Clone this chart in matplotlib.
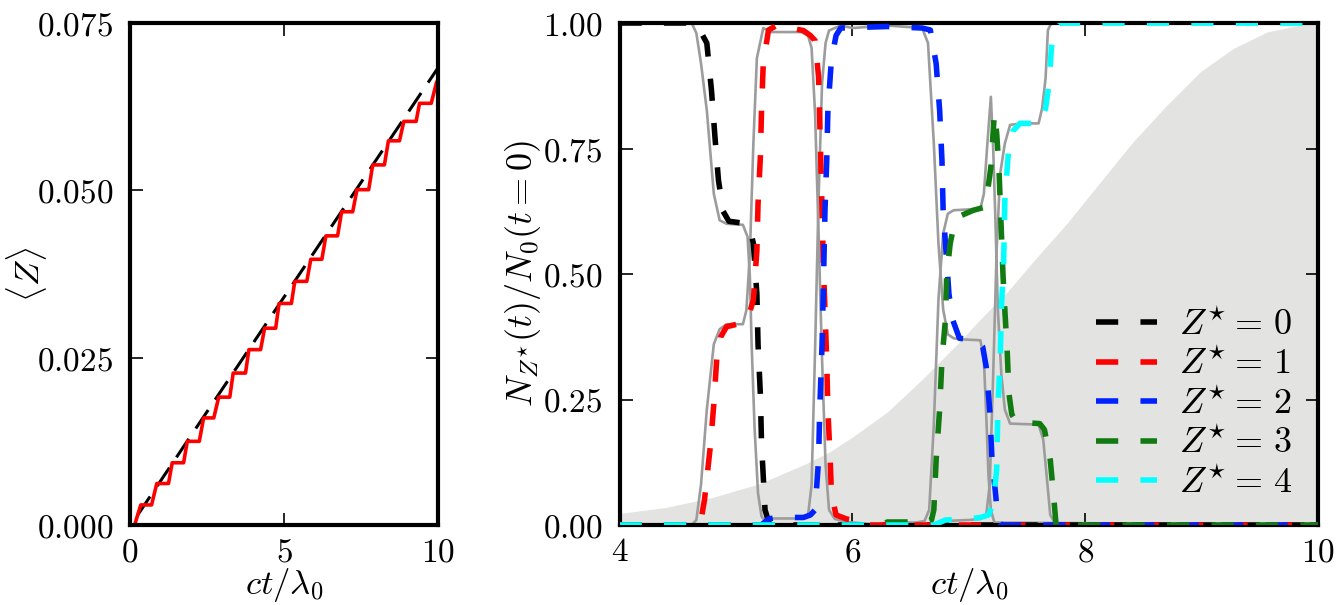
import matplotlib
matplotlib.use("Agg")
import matplotlib.pyplot as plt

plt.rcParams['mathtext.fontset'] = 'cm'
plt.rcParams['font.family'] = 'serif'
plt.rcParams['font.size'] = 24
plt.rcParams['lines.scale_dashes'] = False

# ---- panel a: mean charge ----
fit_x = [0.25, 10.0]
fit_y = [0.0015, 0.0683]

step_x = [0.15, 0.35, 0.70, 0.87, 1.25, 1.37, 1.74, 1.86, 2.25, 2.39, 2.72, 2.88,
          3.24, 3.35, 3.75, 3.86, 4.24, 4.37, 4.73, 4.84, 5.24, 5.35, 5.74, 5.87,
          6.23, 6.36, 6.74, 6.87, 7.23, 7.37, 7.75, 7.88, 8.26, 8.39, 8.75, 8.89,
          9.29, 9.40, 9.78, 9.95, 10.0]
step_y = [0.0, 0.0030, 0.0030, 0.0062, 0.0062, 0.0093, 0.0093, 0.0125, 0.0125,
          0.0160, 0.0160, 0.0191, 0.0191, 0.0227, 0.0227, 0.0262, 0.0262, 0.0294,
          0.0294, 0.0331, 0.0331, 0.0364, 0.0364, 0.0397, 0.0397, 0.0432, 0.0432,
          0.0468, 0.0468, 0.0501, 0.0501, 0.0538, 0.0538, 0.0574, 0.0574, 0.0603,
          0.0603, 0.0630, 0.0630, 0.0661, 0.0665]

left_xticks = [0, 5, 10]
left_yticks = [0.0, 0.025, 0.05, 0.075]
left_yticklabels = ['0.000', '0.025', '0.050', '0.075']

# ---- panel b: charge state populations ----
env_x = [4.0, 4.4, 4.8, 5.2, 5.6, 5.8, 6.0, 6.3, 6.6, 6.9, 7.1, 7.33, 7.55, 7.84, 8.13,
         8.41, 8.70, 8.99, 9.27, 9.56, 9.85, 10.0]
env_y = [0.023, 0.035, 0.055, 0.082, 0.122, 0.145, 0.175, 0.225, 0.29, 0.36, 0.41, 0.464,
         0.524, 0.60, 0.683, 0.763, 0.836, 0.903, 0.949, 0.982, 0.996, 1.0]

z0_x = [4.0, 4.6, 4.68, 4.75, 4.79, 4.82, 4.85, 4.89, 4.94, 5.04, 5.12, 5.15, 5.18,
        5.19, 5.21, 5.22, 5.25, 5.29, 10.0]
z0_y = [1.0, 1.0, 0.99, 0.96, 0.866, 0.773, 0.687, 0.625, 0.605, 0.602, 0.59, 0.561,
        0.46, 0.36, 0.26, 0.163, 0.03, 0.0, 0.0]

z1_x = [4.0, 4.64, 4.70, 4.73, 4.78, 4.81, 4.835, 4.87, 4.92, 5.01, 5.10, 5.15, 5.18,
        5.19, 5.21, 5.22, 5.235, 5.28, 5.35, 5.58, 5.64, 5.68, 5.71, 5.72, 5.74, 5.75,
        5.765, 5.78, 5.79, 5.81, 5.82, 5.86, 5.95, 6.05, 6.1, 10.0]
z1_y = [0.0, 0.0, 0.01, 0.05, 0.156, 0.24, 0.33, 0.375, 0.395, 0.40, 0.41, 0.448, 0.547,
        0.64, 0.733, 0.826, 0.92, 0.986, 0.995, 0.985, 0.975, 0.965, 0.893, 0.806, 0.627,
        0.527, 0.428, 0.328, 0.229, 0.129, 0.063, 0.02, 0.012, 0.008, 0.0, 0.0]

z2_x = [4.0, 5.22, 5.28, 5.35, 5.58, 5.64, 5.68, 5.71, 5.72, 5.74, 5.75, 5.765, 5.78,
        5.79, 5.82, 5.86, 5.90, 6.3, 6.6, 6.67, 6.72, 6.75, 6.77, 6.78, 6.81, 6.83,
        6.86, 6.92, 7.07, 7.12, 7.15, 7.18, 7.20, 7.23, 7.25, 7.28, 10.0]
z2_y = [0.0, 0.0, 0.012, 0.015, 0.015, 0.02, 0.03, 0.13, 0.23, 0.36, 0.46, 0.627, 0.726,
        0.826, 0.926, 0.975, 0.99, 0.993, 0.99, 0.986, 0.919, 0.826, 0.726, 0.627, 0.527,
        0.46, 0.41, 0.372, 0.368, 0.355, 0.315, 0.229, 0.13, 0.063, 0.013, 0.0, 0.0]

z3_x = [4.0, 6.25, 6.3, 6.55, 6.62, 6.68, 6.70, 6.72, 6.75, 6.77, 6.80, 6.81, 6.84,
        6.87, 6.92, 7.04, 7.12, 7.15, 7.19, 7.22, 7.24, 7.26, 7.275, 7.295, 7.31, 7.33,
        7.345, 7.37, 7.41, 7.61, 7.65, 7.70, 7.73, 7.75, 10.0]
z3_y = [0.0, 0.0, 0.006, 0.006, 0.005, 0.01, 0.03, 0.13, 0.23, 0.33, 0.41, 0.494, 0.56,
        0.594, 0.615, 0.627, 0.632, 0.645, 0.713, 0.82, 0.78, 0.707, 0.614, 0.494, 0.428,
        0.348, 0.262, 0.22, 0.205, 0.202, 0.19, 0.13, 0.056, 0.0, 0.0]

z4_x = [4.0, 6.7, 6.8, 7.0, 7.1, 7.17, 7.21, 7.24, 7.25, 7.27, 7.28, 7.30, 7.31, 7.34,
        7.38, 7.44, 7.61, 7.66, 7.69, 7.71, 7.73, 7.78, 10.0]
z4_y = [0.0, 0.0, 0.01, 0.012, 0.015, 0.02, 0.043, 0.11, 0.23, 0.33, 0.43, 0.527, 0.647,
        0.74, 0.785, 0.80, 0.80, 0.83, 0.88, 0.95, 0.985, 1.0, 1.0]

# model curves (thin grey)
g0_x = [4.0, 4.62, 4.66, 4.70, 4.75, 4.81, 4.86, 4.92, 5.06, 5.10, 5.12, 5.135, 5.16,
        5.19, 5.22, 5.26, 5.3, 10.0]
g0_y = [1.0, 1.0, 0.98, 0.92, 0.826, 0.66, 0.607, 0.60, 0.598, 0.574, 0.494, 0.36, 0.195,
        0.063, 0.017, 0.005, 0.0, 0.0]

g1_x = [4.0, 4.62, 4.66, 4.70, 4.75, 4.81, 4.86, 4.92, 5.06, 5.09, 5.12, 5.15, 5.18,
        5.235, 5.3, 5.56, 5.62, 5.65, 5.68, 5.71, 5.74, 5.77, 5.80, 5.85, 5.95, 6.1,
        6.2, 10.0]
g1_y = [0.0, 0.0, 0.01, 0.08, 0.23, 0.36, 0.39, 0.40, 0.40, 0.428, 0.54, 0.76, 0.93,
        0.99, 0.982, 0.982, 0.975, 0.95, 0.82, 0.58, 0.33, 0.12, 0.03, 0.012, 0.006,
        0.003, 0.0, 0.0]

g2_x = [4.0, 5.2, 5.25, 5.3, 5.58, 5.62, 5.65, 5.68, 5.71, 5.74, 5.77, 5.80, 5.85,
        5.9, 6.0, 6.3, 6.6, 6.65, 6.70, 6.74, 6.78, 6.82, 6.87, 6.92, 7.10, 7.13, 7.15,
        7.17, 7.19, 7.22, 10.0]
g2_y = [0.0, 0.0, 0.01, 0.013, 0.013, 0.02, 0.08, 0.35, 0.65, 0.88, 0.96, 0.985, 0.99,
        0.995, 0.99, 0.995, 0.99, 0.96, 0.76, 0.56, 0.43, 0.38, 0.372, 0.37, 0.368, 0.33,
        0.22, 0.096, 0.03, 0.005, 0.0]

g3_x = [4.0, 6.25, 6.3, 6.55, 6.62, 6.66, 6.70, 6.74, 6.78, 6.82, 6.87, 7.10, 7.13,
        7.16, 7.19, 7.21, 7.23, 7.25, 7.28, 7.31, 7.355, 7.60, 7.64, 7.67, 7.70, 7.75, 10.0]
g3_y = [0.0, 0.0, 0.005, 0.005, 0.008, 0.03, 0.2, 0.45, 0.58, 0.62, 0.627, 0.63, 0.66,
        0.76, 0.853, 0.75, 0.60, 0.43, 0.30, 0.23, 0.202, 0.20, 0.17, 0.096, 0.02, 0.0, 0.0]

g4_x = [4.0, 6.7, 6.8, 7.0, 7.1, 7.15, 7.18, 7.21, 7.24, 7.27, 7.31, 7.355, 7.45, 7.60,
        7.63, 7.66, 7.68, 7.71, 7.75, 10.0]
g4_y = [0.0, 0.0, 0.008, 0.01, 0.012, 0.02, 0.08, 0.3, 0.55, 0.7, 0.76, 0.797, 0.80,
        0.80, 0.83, 0.89, 0.986, 1.0, 1.0, 1.0]

state_labels = [r'$Z^{\star} =\, 0$', r'$Z^{\star} =\, 1$', r'$Z^{\star} =\, 2$',
                r'$Z^{\star} =\, 3$', r'$Z^{\star} =\, 4$']
state_colors = ['black', 'red', '#0022ff', '#117a11', 'cyan']

right_xticks = [4, 6, 8, 10]
right_yticks = [0.0, 0.25, 0.5, 0.75, 1.0]
right_yticklabels = ['0.00', '0.25', '0.50', '0.75', '1.00']

W, H = 1337, 605
fig = plt.figure(figsize=(W / 100, H / 100), dpi=100)
ax1 = fig.add_axes([130 / W, (H - 525) / H, 308 / W, 502 / H])
ax2 = fig.add_axes([619.5 / W, (H - 525) / H, 698.5 / W, 502 / H])


def style_axes(ax):
    for s in ax.spines.values():
        s.set_linewidth(3)
    ax.tick_params(direction='in', top=True, right=True, length=9, width=1.2,
                   labelsize=24, pad=12)
    ax.tick_params(axis='x', pad=8)


# left panel
ax1.plot(fit_x, fit_y, color='black', lw=2.2, dashes=(16, 9))
ax1.plot(step_x, step_y, color='red', lw=2.6)
ax1.set_xlim(0, 10)
ax1.set_ylim(0, 0.075)
ax1.set_xticks(left_xticks)
ax1.set_xticklabels(['$%d$' % t for t in left_xticks])
ax1.set_yticks(left_yticks)
ax1.set_yticklabels(['$%s$' % t for t in left_yticklabels])
ax1.set_xlabel(r'$ct/\lambda_0$', fontsize=25)
ax1.set_ylabel(r'$\langle Z\rangle$', fontsize=25)
ax1.xaxis.set_label_coords(0.5, -0.082)
ax1.yaxis.set_label_coords(-0.262, 0.5)
style_axes(ax1)

# right panel
ax2.fill_between(env_x, 0, env_y, color='#e3e4e2', lw=0, zorder=0)
grey_x = [g0_x, g1_x, g2_x, g3_x, g4_x]
grey_y = [g0_y, g1_y, g2_y, g3_y, g4_y]
for gx, gy in zip(grey_x, grey_y):
    ax2.plot(gx, gy, color='#9c9c9c', lw=1.9, zorder=2)

dash_x = [z0_x, z1_x, z2_x, z3_x, z4_x]
dash_y = [z0_y, z1_y, z2_y, z3_y, z4_y]
for zx, zy, c, lab in zip(dash_x, dash_y, state_colors, state_labels):
    ax2.plot(zx, zy, color=c, lw=4.0, dashes=(16, 16), label=lab, zorder=3)

ax2.set_xlim(4, 10)
ax2.set_ylim(0, 1)
ax2.set_xticks(right_xticks)
ax2.set_xticklabels(['$%d$' % t for t in right_xticks])
ax2.set_yticks(right_yticks)
ax2.set_yticklabels(['$%s$' % t for t in right_yticklabels])
ax2.set_xlabel(r'$ct/\lambda_0$', fontsize=25)
ax2.set_ylabel(r'$N_{Z^{\star}}(t)/N_0(t=0)$', fontsize=26)
ax2.xaxis.set_label_coords(0.5, -0.082)
ax2.yaxis.set_label_coords(-0.109, 0.5)
style_axes(ax2)

ax2.legend(loc='lower right', frameon=False, fontsize=26, handlelength=1.7,
           labelspacing=0.15, handletextpad=0.6, borderaxespad=0.3)

fig.savefig('out.png', dpi=100)
